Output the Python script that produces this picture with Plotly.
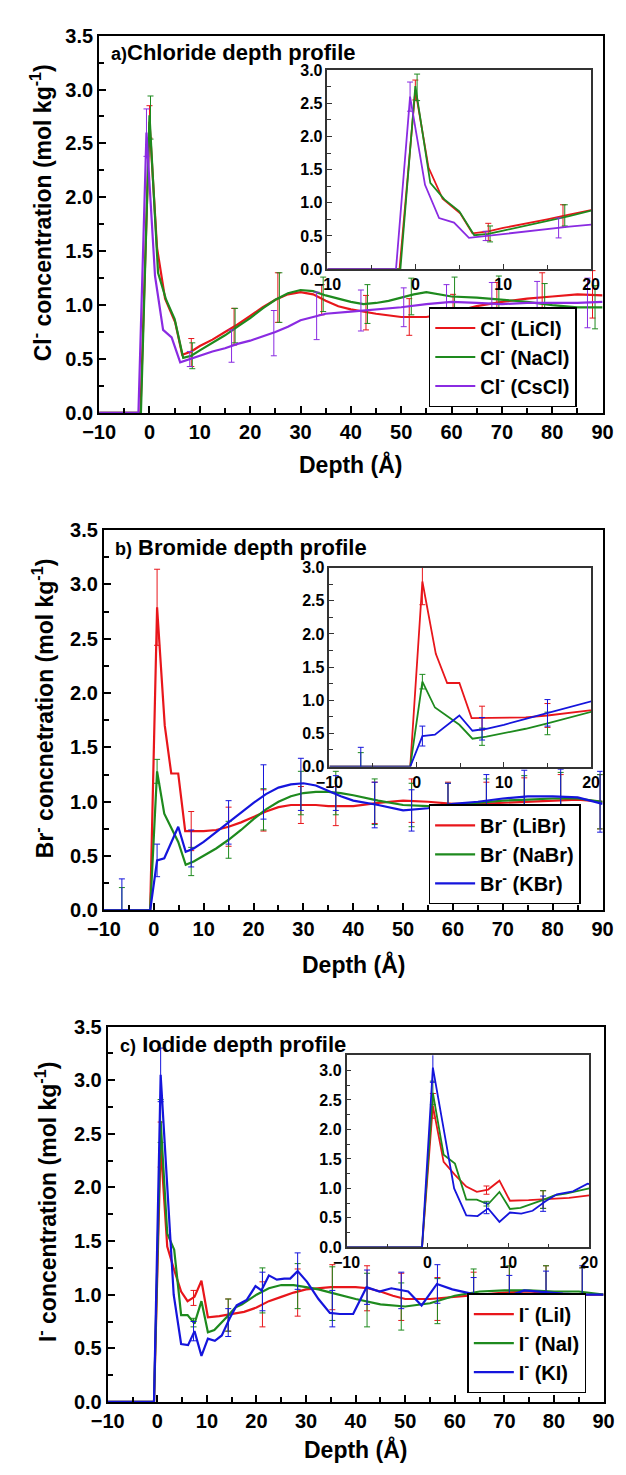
import plotly.graph_objects as go

W, H = 626, 1475
FONT = "Liberation Sans, Arial, sans-serif"

# ---------------- Panel a: chloride ----------------
cl_li_x = [-10, -1.8, 0, 1.5, 3.1, 5.1, 6.5, 8.3, 10, 12.5, 15, 17.5, 20, 22.5, 25, 27.5, 30, 32.5, 35, 37.5, 40, 45, 50, 55, 60, 65, 70, 75, 80, 85, 90]
cl_li_y = [0, 0, 2.70, 1.53, 1.06, 0.84, 0.54, 0.57, 0.62, 0.68, 0.75, 0.82, 0.90, 0.98, 1.05, 1.10, 1.12, 1.10, 1.04, 0.99, 0.96, 0.92, 0.89, 0.89, 0.93, 0.99, 1.03, 1.06, 1.08, 1.10, 1.09]
cl_na_x = [-10, -1.7, 0, 1.7, 3.3, 5.0, 6.7, 8.3, 10, 12.5, 15, 17.5, 20, 22.5, 25, 27.5, 30, 32.5, 35, 37.5, 40, 42.5, 45, 47.5, 50, 52.5, 55, 57.5, 60, 65, 70, 75, 80, 85, 90]
cl_na_y = [0, 0, 2.76, 1.30, 1.05, 0.87, 0.51, 0.53, 0.58, 0.65, 0.72, 0.80, 0.88, 0.97, 1.05, 1.11, 1.14, 1.13, 1.09, 1.06, 1.03, 1.01, 1.02, 1.04, 1.07, 1.10, 1.12, 1.10, 1.08, 1.07, 1.05, 1.03, 1.00, 0.98, 0.98]
cl_cs_x = [-10, -2.2, -0.6, 1.1, 2.7, 4.4, 6.1, 8, 10, 12.5, 15, 17.5, 20, 22.5, 25, 27.5, 30, 32.5, 35, 40, 45, 50, 55, 60, 65, 70, 75, 80, 85, 90]
cl_cs_y = [0, 0, 2.60, 1.27, 0.77, 0.70, 0.47, 0.50, 0.53, 0.57, 0.60, 0.64, 0.67, 0.71, 0.75, 0.80, 0.86, 0.89, 0.92, 0.94, 0.96, 0.98, 1.01, 1.03, 1.02, 1.01, 1.02, 1.02, 1.02, 1.03]

cl_li_ex = [0, 8.3, 16.8, 25.5, 34.2, 43, 51.6, 60.3, 69, 78, 88]
cl_li_ey = [2.70, 0.56, 0.80, 1.07, 1.05, 0.93, 0.89, 0.93, 1.02, 1.08, 1.10]
cl_li_eh = [0.15, 0.13, 0.17, 0.23, 0.14, 0.16, 0.17, 0.17, 0.19, 0.22, 0.22]
cl_na_ex = [0.2, 8.5, 17, 25.8, 34.5, 43.3, 52, 60.6, 69.4, 78.5, 88.5]
cl_na_ey = [2.74, 0.53, 0.81, 1.07, 1.10, 1.01, 1.08, 1.08, 1.05, 1.00, 0.98]
cl_na_eh = [0.20, 0.12, 0.16, 0.23, 0.16, 0.18, 0.17, 0.18, 0.22, 0.20, 0.20]
cl_cs_ex = [-0.6, 8, 16.3, 24.7, 33.2, 42, 50.5, 59, 68, 77, 87]
cl_cs_ey = [2.60, 0.50, 0.62, 0.74, 0.90, 0.95, 0.98, 1.03, 1.01, 1.02, 1.02]
cl_cs_eh = [0.22, 0.07, 0.15, 0.21, 0.22, 0.19, 0.18, 0.16, 0.20, 0.20, 0.23]

# ---------------- Panel b: bromide ----------------
br_li_x = [-10, -0.73, 0.66, 2.2, 3.5, 4.9, 6.3, 8, 10, 12.5, 15, 17.5, 20, 22.5, 25, 27.5, 30, 32.5, 35, 37.5, 40, 45, 50, 55, 60, 65, 70, 75, 80, 85, 90]
br_li_y = [0, 0, 2.79, 1.70, 1.26, 1.26, 0.73, 0.73, 0.73, 0.74, 0.77, 0.81, 0.86, 0.91, 0.95, 0.97, 0.97, 0.97, 0.96, 0.96, 0.96, 0.99, 1.01, 1.00, 0.98, 0.98, 0.99, 1.00, 1.01, 1.02, 1.00]
br_na_x = [-10, -0.73, 0.66, 2.1, 4.9, 6.4, 8, 10, 12.5, 15, 17.5, 20, 22.5, 25, 27.5, 30, 32.5, 35, 37.5, 40, 45, 50, 55, 60, 65, 70, 75, 80, 85, 90]
br_na_y = [0, 0, 1.28, 0.89, 0.63, 0.42, 0.45, 0.50, 0.57, 0.65, 0.74, 0.84, 0.93, 1.00, 1.05, 1.08, 1.09, 1.09, 1.08, 1.06, 1.01, 0.97, 0.96, 0.97, 0.99, 1.01, 1.02, 1.03, 1.03, 1.00]
br_k_x = [-10, -0.73, 0.66, 2.1, 4.9, 6.4, 8, 10, 12.5, 15, 17.5, 20, 22.5, 25, 27.5, 30, 32.5, 35, 37.5, 40, 45, 50, 55, 60, 65, 70, 75, 80, 85, 90]
br_k_y = [0, 0, 0.46, 0.48, 0.77, 0.54, 0.57, 0.63, 0.72, 0.81, 0.90, 0.99, 1.07, 1.13, 1.16, 1.17, 1.15, 1.10, 1.05, 1.01, 0.97, 0.92, 0.94, 0.98, 1.00, 1.03, 1.05, 1.05, 1.04, 0.98]

br_li_ex = [0.66, 7.5, 15, 22, 29.5, 36.5, 44.3, 51.7, 59, 66.7, 74.3, 81.6, 89.5]
br_li_ey = [2.79, 0.73, 0.77, 0.92, 0.97, 0.96, 0.99, 1.01, 0.98, 0.98, 1.00, 1.01, 1.00]
br_li_eh = [0.35, 0.18, 0.18, 0.19, 0.17, 0.18, 0.19, 0.20, 0.20, 0.20, 0.22, 0.24, 0.25]
br_na_ex = [-6.4, 0.66, 7.5, 15, 22, 29.5, 36.5, 44.3, 51.7, 59, 66.7, 74.3, 81.6, 89.5]
br_na_ey = [0, 1.28, 0.45, 0.65, 0.93, 1.08, 1.08, 1.00, 0.97, 0.97, 0.99, 1.02, 1.03, 1.00]
br_na_eh = [0.21, 0.11, 0.13, 0.17, 0.19, 0.20, 0.20, 0.21, 0.20, 0.20, 0.22, 0.22, 0.24, 0.25]
br_k_ex = [-6.4, 0.66, 7.5, 15, 22, 29.5, 36.5, 44.3, 51.7, 59, 66.7, 74.3, 81.6, 89.5]
br_k_ey = [0, 0.46, 0.57, 0.81, 1.09, 1.16, 1.08, 0.97, 0.92, 0.97, 1.01, 1.04, 1.05, 1.00]
br_k_eh = [0.29, 0.15, 0.17, 0.20, 0.25, 0.24, 0.16, 0.21, 0.19, 0.20, 0.24, 0.25, 0.25, 0.28]

# ---------------- Panel c: iodide ----------------
i_li_x = [-10, -0.67, 0.67, 2.0, 3.4, 4.8, 6.1, 7.5, 8.9, 10.2, 12.5, 15, 17.5, 20, 22.5, 25, 27.5, 30, 32.5, 35, 37.5, 40, 42.5, 45, 47.5, 50, 55, 60, 65, 70, 75, 80, 85, 90]
i_li_y = [0, 0, 2.40, 1.45, 1.23, 1.03, 0.94, 0.98, 1.13, 0.79, 0.80, 0.82, 0.84, 0.88, 0.94, 0.98, 1.02, 1.05, 1.06, 1.07, 1.07, 1.07, 1.06, 1.03, 0.99, 0.96, 0.96, 0.98, 1.00, 1.02, 1.03, 1.01, 1.00, 1.00]
i_na_x = [-10, -0.67, 0.67, 2.0, 3.4, 4.8, 6.1, 7.5, 8.9, 10.2, 11.5, 12.8, 14.4, 15.7, 17.1, 20, 22.5, 25, 27.5, 30, 32.5, 35, 37.5, 40, 45, 50, 55, 60, 65, 70, 75, 80, 85, 90]
i_na_y = [0, 0, 2.62, 1.57, 1.42, 0.81, 0.81, 0.73, 0.94, 0.65, 0.67, 0.73, 0.81, 0.88, 0.91, 1.00, 1.06, 1.09, 1.09, 1.07, 1.05, 1.02, 0.99, 0.96, 0.91, 0.89, 0.92, 0.99, 1.03, 1.04, 1.04, 1.03, 1.03, 1.00]
i_k_x = [-10, -0.67, 0.67, 3.3, 4.8, 6.2, 7.5, 8.9, 10.2, 11.6, 13.0, 14.6, 16.0, 18.0, 19.8, 21.0, 22.5, 24.1, 25.6, 26.8, 28.3, 30.2, 32.5, 34.8, 36.8, 39.5, 42.2, 44.8, 47.2, 50.6, 53.3, 56.4, 59.5, 63.3, 67.9, 71.0, 74.0, 78.7, 81.8, 85.6, 90]
i_k_y = [0, 0, 3.05, 1.00, 0.54, 0.53, 0.66, 0.43, 0.59, 0.57, 0.62, 0.78, 0.90, 0.95, 1.08, 1.04, 1.18, 1.14, 1.15, 1.15, 1.22, 1.12, 0.96, 0.83, 0.82, 0.82, 1.07, 1.03, 1.06, 1.03, 0.90, 1.10, 1.05, 1.01, 0.93, 0.99, 1.04, 1.02, 1.01, 1.00, 1.00]

i_ex = [0.67, 7.3, 14.3, 21.2, 28.3, 35.3, 42.3, 49.2, 56.5, 63.8, 71, 78.4, 85.7]
i_li_ey = [2.40, 0.97, 0.81, 0.91, 1.02, 1.07, 1.06, 0.98, 0.96, 0.99, 1.02, 1.02, 1.00]
i_li_eh = [0.21, 0.07, 0.15, 0.21, 0.22, 0.21, 0.21, 0.22, 0.20, 0.22, 0.24, 0.25, 0.25]
i_na_ey = [2.62, 0.74, 0.81, 1.04, 1.08, 1.01, 0.95, 0.89, 0.94, 1.02, 1.04, 1.03, 1.03]
i_na_eh = [0.20, 0.04, 0.15, 0.21, 0.21, 0.25, 0.25, 0.22, 0.21, 0.22, 0.23, 0.24, 0.22]
i_k_ey = [3.05, 0.66, 0.74, 1.03, 1.22, 0.87, 1.07, 1.04, 1.10, 0.98, 1.00, 1.02, 1.00]
i_k_eh = [0.25, 0.09, 0.13, 0.18, 0.17, 0.17, 0.16, 0.17, 0.18, 0.18, 0.18, 0.20, 0.27]

RED, GREEN, PURPLE, BLUE = "#e8161b", "#1e8a1e", "#8a2be2", "#1515dc"

panels = [
    dict(main=("x", "y"), inset=("x2", "y2"), legend="legend",
         series=[("Cl<sup>-</sup> (LiCl)", RED, cl_li_x, cl_li_y, cl_li_ex, cl_li_ey, cl_li_eh),
                 ("Cl<sup>-</sup> (NaCl)", GREEN, cl_na_x, cl_na_y, cl_na_ex, cl_na_ey, cl_na_eh),
                 ("Cl<sup>-</sup> (CsCl)", PURPLE, cl_cs_x, cl_cs_y, cl_cs_ex, cl_cs_ey, cl_cs_eh)]),
    dict(main=("x3", "y3"), inset=("x4", "y4"), legend="legend2",
         series=[("Br<sup>-</sup> (LiBr)", RED, br_li_x, br_li_y, br_li_ex, br_li_ey, br_li_eh),
                 ("Br<sup>-</sup> (NaBr)", GREEN, br_na_x, br_na_y, br_na_ex, br_na_ey, br_na_eh),
                 ("Br<sup>-</sup> (KBr)", BLUE, br_k_x, br_k_y, br_k_ex, br_k_ey, br_k_eh)]),
    dict(main=("x5", "y5"), inset=("x6", "y6"), legend="legend3",
         series=[("I<sup>-</sup> (LiI)", RED, i_li_x, i_li_y, i_ex, i_li_ey, i_li_eh),
                 ("I<sup>-</sup> (NaI)", GREEN, i_na_x, i_na_y, i_ex, i_na_ey, i_na_eh),
                 ("I<sup>-</sup> (KI)", BLUE, i_k_x, i_k_y, i_ex, i_k_ey, i_k_eh)]),
]

fig = go.Figure()
for p in panels:
    for (name, col, xs, ys, ex, ey, eh) in p["series"]:
        for which, lw in (("main", 2.2), ("inset", 1.8)):
            xa, ya = p[which]
            fig.add_trace(go.Scatter(x=xs, y=ys, mode="lines", name=name,
                                     line=dict(color=col, width=lw),
                                     xaxis=xa, yaxis=ya, legend=p["legend"],
                                     showlegend=(which == "main")))
            fig.add_trace(go.Scatter(x=ex, y=ey, mode="markers",
                                     marker=dict(size=1, color="rgba(0,0,0,0)"),
                                     error_y=dict(type="data", array=eh, color=col,
                                                  thickness=1, width=3),
                                     xaxis=xa, yaxis=ya, showlegend=False,
                                     hoverinfo="skip"))


def px_dom_x(a, b):
    return [a / W, b / W]


def px_dom_y(top, bot):
    return [1 - bot / H, 1 - top / H]


tickfont_main = dict(family=FONT, size=20, color="black", weight="bold")
tickfont_in = dict(family=FONT, size=16, color="black", weight="bold")

main_boxes = [(86, 613, 25, 408), (91, 613, 527, 913), (95, 614, 1031, 1412)]
inset_boxes = [(325, 601, 60, 262), (327, 601, 565, 767), (345, 599, 1060, 1255)]
inset_yr = [[0, 3.0], [0, 3.0], [0, 3.26]]

layout = dict(width=W, height=H, margin=dict(l=0, r=0, t=0, b=0),
              paper_bgcolor="white", plot_bgcolor="white", showlegend=True)

for k in range(3):
    xi, yi = 2 * k + 1, 2 * k + 2
    l, r, t, b = main_boxes[k]
    nx = "xaxis" if k == 0 else "xaxis%d" % xi
    ny = "yaxis" if k == 0 else "yaxis%d" % xi
    layout[nx] = dict(domain=px_dom_x(l, r), range=[-10, 90], anchor="y" if k == 0 else "y%d" % xi,
                      dtick=10, tick0=0, ticks="inside", ticklen=7, tickwidth=1.5, tickcolor="black",
                      minor=dict(dtick=5, ticks="inside", ticklen=5, tickwidth=1.5, tickcolor="black"),
                      showline=True, linecolor="black", linewidth=2, mirror=True,
                      showgrid=False, zeroline=False, tickfont=tickfont_main)
    layout[ny] = dict(domain=px_dom_y(t, b), range=[0, 3.5], anchor="x" if k == 0 else "x%d" % xi,
                      dtick=0.5, tick0=0, tickformat=".1f", ticks="inside", ticklen=7, tickwidth=1.5,
                      tickcolor="black",
                      minor=dict(dtick=0.25, ticks="inside", ticklen=5, tickwidth=1.5, tickcolor="black"),
                      showline=True, linecolor="black", linewidth=2, mirror=True,
                      showgrid=False, zeroline=False, tickfont=tickfont_main)
    l, r, t, b = inset_boxes[k]
    layout["xaxis%d" % yi] = dict(domain=px_dom_x(l, r), range=[-10, 20], anchor="y%d" % yi,
                                  dtick=10, tick0=0, ticks="inside", ticklen=5, tickwidth=1, tickcolor="#333",
                                  minor=dict(dtick=5, ticks="inside", ticklen=4, tickwidth=1, tickcolor="#333"),
                                  showline=True, linecolor="#333", linewidth=1.5, mirror=True,
                                  showgrid=False, zeroline=False, tickfont=tickfont_in, ticklabelstandoff=0)
    layout["yaxis%d" % yi] = dict(domain=px_dom_y(t, b), range=inset_yr[k], anchor="x%d" % yi,
                                  dtick=0.5, tick0=0, tickformat=".1f", ticks="inside", ticklen=5, tickwidth=1,
                                  tickcolor="#333",
                                  minor=dict(dtick=0.25, ticks="inside", ticklen=4, tickwidth=1, tickcolor="#333"),
                                  showline=True, linecolor="#333", linewidth=1.5, mirror=True,
                                  showgrid=False, zeroline=False, tickfont=tickfont_in)

legend_boxes = [(586, 402), (590, 907), (596, 1403)]
for k, name in enumerate(["legend", "legend2", "legend3"]):
    rx, by = legend_boxes[k]
    layout[name] = dict(x=rx / W, y=1 - by / H, xanchor="right", yanchor="bottom",
                        bgcolor="white", bordercolor="black", borderwidth=1.5,
                        font=dict(family=FONT, size=20, color="black", weight="bold"),
                        itemwidth=40, tracegroupgap=0)

shapes = []
for k in range(3):
    yi = 2 * k + 2
    shapes.append(dict(type="rect", xref="x%d domain" % yi, yref="y%d domain" % yi,
                       x0=0, x1=1, y0=0, y1=1, fillcolor="white", line=dict(width=0), layer="below"))
layout["shapes"] = shapes

ann = []
titles = ["a)Chloride depth profile", "b) Bromide depth profile", "c) Iodide depth profile"]
title_xy = [(96, 42), (101, 545), (106, 1049)]
ylabels = ["Cl<sup>-</sup> concentration (mol kg<sup>-1</sup>)",
           "Br<sup>-</sup> concnetration (mol kg<sup>-1</sup>)",
           "I<sup>-</sup> concentration (mol kg<sup>-1</sup>)"]
ylab_x = [26, 28, 31]
xlab_y = [460, 968, 1460]
for k in range(3):
    l, r, t, b = main_boxes[k]
    tx, ty = title_xy[k]
    pre, rest = titles[k][:2], titles[k][2:]
    ann.append(dict(xref="paper", yref="paper", x=tx / W, y=1 - ty / H, xanchor="left", yanchor="middle",
                    showarrow=False,
                    text="<span style='font-size:18px'>%s</span>%s" % (pre, rest),
                    font=dict(family=FONT, size=22, color="black", weight="bold")))
    ann.append(dict(xref="paper", yref="paper", x=ylab_x[k] / W, y=1 - ((t + b) / 2 - 12) / H,
                    xanchor="center", yanchor="middle", textangle=-90, showarrow=False,
                    text=ylabels[k], font=dict(family=FONT, size=23, color="black", weight="bold")))
    ann.append(dict(xref="paper", yref="paper", x=((l + r) / 2) / W, y=1 - xlab_y[k] / H,
                    xanchor="center", yanchor="middle", showarrow=False,
                    text="Depth (Å)", font=dict(family=FONT, size=23, color="black", weight="bold")))
layout["annotations"] = ann

fig.update_layout(**layout)
fig.write_html("out.html")
